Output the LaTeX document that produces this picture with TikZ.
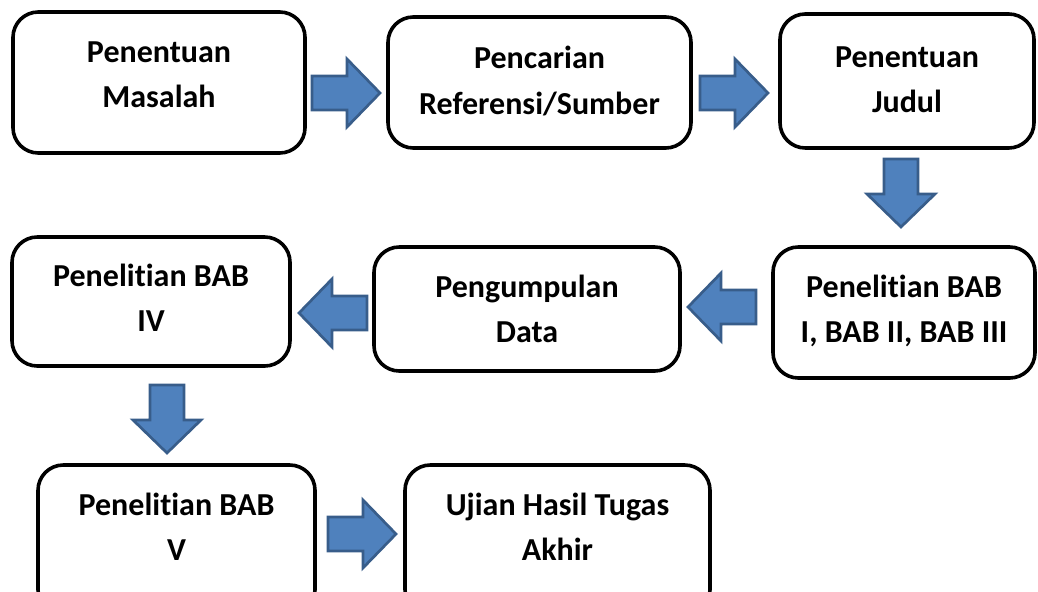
\documentclass[tikz,border=0pt]{standalone}
\usepackage{fontspec}
\setmainfont{Carlito}[Ligatures=NoCommon]
\usetikzlibrary{positioning, calc}
\definecolor{arrowblue}{RGB}{79,129,189}
\definecolor{arrowedge}{RGB}{56,93,138}

\tikzset{
  stepbox/.style={draw=black, line width=2.7pt, rounded corners=19pt, fill=white, inner sep=0pt},
  steptext/.style={font=\fontsize{24}{34}\selectfont\bfseries, align=center, inner sep=0pt},
  blockarrow/.pic={
    \draw[fill=arrowblue, draw=arrowedge, line width=2pt, line join=miter]
      (0,-17) -- (35,-17) -- (35,-34) -- (68,0) -- (35,34) -- (35,17) -- (0,17) -- cycle;
  }
}

\begin{document}
\begin{tikzpicture}[x=0.75pt, y=-0.75pt]
  \useasboundingbox (0,0) rectangle (1038,592);
  \clip (0,0) rectangle (1038,592);

  % boxes
  \node[stepbox, minimum width=292*0.75pt, minimum height=141*0.75pt] (masalah) at (159,82.5) {};
  \node[stepbox, minimum width=303*0.75pt, minimum height=131*0.75pt] (referensi) at (539.5,82.5) {};
  \node[stepbox, minimum width=254*0.75pt, minimum height=134*0.75pt] (judul) at (907,81) {};
  \node[stepbox, minimum width=262*0.75pt, minimum height=131*0.75pt] (babtiga) at (904,312.5) {};
  \node[stepbox, minimum width=306*0.75pt, minimum height=124*0.75pt] (data) at (527,309) {};
  \node[stepbox, minimum width=278*0.75pt, minimum height=129*0.75pt] (babempat) at (151,301.5) {};
  \node[stepbox, minimum width=277*0.75pt, minimum height=150*0.75pt] (ujilima) at (176.5,540) {};
  \node[stepbox, minimum width=305*0.75pt, minimum height=150*0.75pt] (ujian) at (557.5,540) {};

  % texts
  \node[steptext] (tmasalah) at (159,75) {Penentuan\\Masalah};
  \node[steptext] (treferensi) at (539.5,81) {Pencarian\\Referensi/Sumber};
  \node[steptext] (tjudul) at (907,80) {Penentuan\\Judul};
  \node[steptext] (tbabtiga) at (904,311) {Penelitian BAB\\I, BAB II, BAB III};
  \node[steptext] (tdata) at (527,309) {Pengumpulan\\Data};
  \node[steptext] (tbabempat) at (151,298) {Penelitian BAB\\IV};
  \node[steptext] (tujilima) at (176.5,527) {Penelitian BAB\\V};
  \node[steptext] (tujian) at (557.5,527) {Ujian Hasil Tugas\\Akhir};

  % block arrows
  \foreach \x/\y/\r in {312/93/0, 700/93/0, 901/159/-90, 756/307/180, 367/313/180, 167/385/-90, 328/534/0}{
    \pic[rotate=\r] at (\x,\y) {blockarrow};
  }
\end{tikzpicture}
\end{document}
